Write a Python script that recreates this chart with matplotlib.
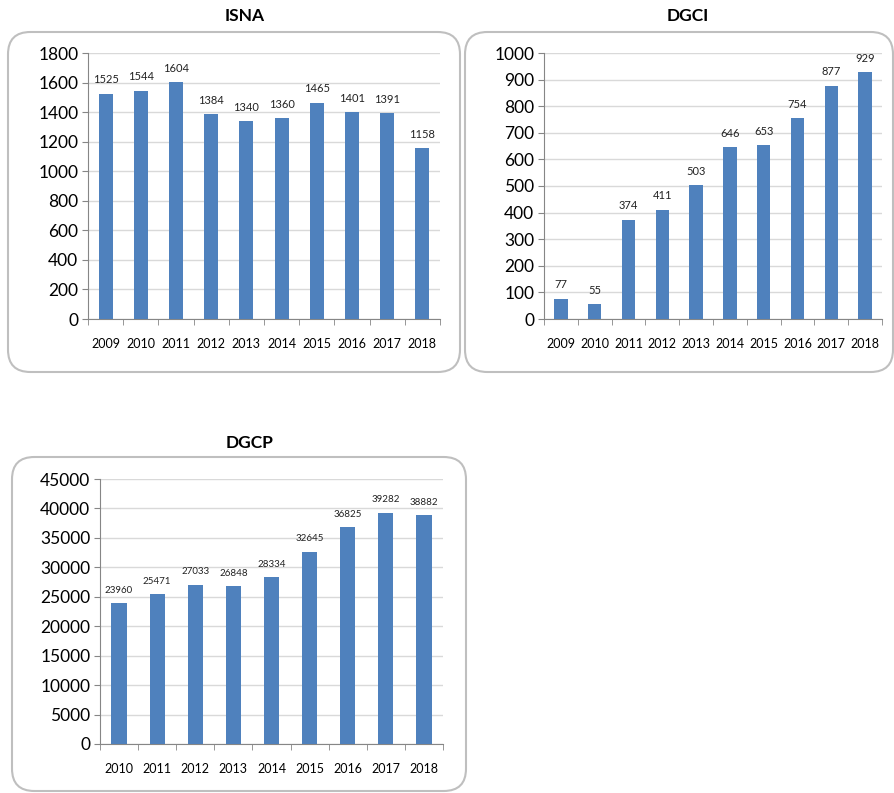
import numpy as np
import matplotlib
matplotlib.use('Agg')
from matplotlib import pyplot as plt
from matplotlib.patches import FancyBboxPatch

plt.rcParams['font.family'] = ['Lato', 'DejaVu Sans']

W, H = 894, 793

isna_years = ['2009', '2010', '2011', '2012', '2013', '2014', '2015', '2016', '2017', '2018']
isna_values = [1525, 1544, 1604, 1384, 1340, 1360, 1465, 1401, 1391, 1158]

dgci_years = ['2009', '2010', '2011', '2012', '2013', '2014', '2015', '2016', '2017', '2018']
dgci_values = [77, 55, 374, 411, 503, 646, 653, 754, 877, 929]

dgcp_years = ['2010', '2011', '2012', '2013', '2014', '2015', '2016', '2017', '2018']
dgcp_values = [23960, 25471, 27033, 26848, 28334, 32645, 36825, 39282, 38882]

bar_color = '#4F81BD'
grid_color = '#D9D9D9'
axis_color = '#868686'

fig = plt.figure(figsize=(W / 100, H / 100), dpi=100)


def px_rect(l, t, r, b):
    return [l / W, 1 - b / H, (r - l) / W, (b - t) / H]


def add_box(l, t, r, b):
    box = FancyBboxPatch((l / W, 1 - b / H), (r - l) / W, (b - t) / H,
                         boxstyle='round,pad=0,rounding_size=0.025',
                         transform=fig.transFigure, fill=False,
                         edgecolor='#BFBFBF', linewidth=1.5, mutation_aspect=W / H)
    fig.patches.append(box)


def draw_chart(rect, years, values, ymax, step, title, title_xy, label_size):
    ax = fig.add_axes(px_rect(*rect))
    x = np.arange(len(years))
    ax.bar(x, values, width=0.4, color=bar_color, zorder=3)
    ax.set_xlim(-0.5, len(years) - 0.5)
    ax.set_ylim(0, ymax)
    ax.set_yticks(np.arange(0, ymax + 1, step))
    ax.yaxis.grid(True, color=grid_color, linewidth=1, zorder=0)
    for s in ['top', 'right']:
        ax.spines[s].set_visible(False)
    for s in ['left', 'bottom']:
        ax.spines[s].set_color(axis_color)
    ax.set_xticks(x)
    ax.set_xticklabels(years, fontsize=9)
    ax.set_xticks(np.arange(-0.5, len(years)), minor=True)
    ax.tick_params(axis='x', which='major', length=0, pad=14)
    ax.tick_params(axis='x', which='minor', length=4, color=axis_color, direction='out')
    ax.tick_params(axis='y', length=4, color=axis_color, labelsize=12.5, pad=3)
    for xi, v in zip(x, values):
        ax.annotate(str(v), (xi, v), xytext=(0, 6), textcoords='offset points',
                    ha='center', va='bottom', fontsize=label_size, color='#222222')
    fig.text(title_xy[0] / W, 1 - title_xy[1] / H, title, ha='center', va='center',
             fontsize=12.5, fontweight='bold')
    return ax


add_box(8, 32, 460, 372)
add_box(465, 32, 893, 372)
add_box(12, 457, 466, 791)

draw_chart((88, 53, 440, 319), isna_years, isna_values, 1800, 200, 'ISNA', (245, 16), 8)
draw_chart((544, 53, 882, 319), dgci_years, dgci_values, 1000, 100, 'DGCI', (688, 16), 8)
draw_chart((100, 479, 443, 744), dgcp_years, dgcp_values, 45000, 5000, 'DGCP', (250, 443), 7)

fig.savefig('out.png', dpi=100)
